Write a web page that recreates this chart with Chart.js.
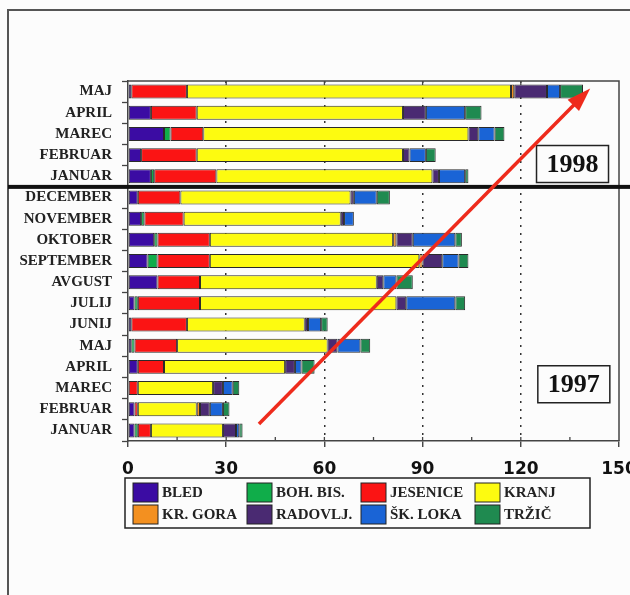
<!DOCTYPE html>
<html>
<head>
<meta charset="utf-8">
<script src="https://cdn.jsdelivr.net/npm/chart.js@4/dist/chart.umd.min.js"></script>
<style>
  body { margin: 0; background: #fcfcfc; }
  .okvir { position: relative; width: 630px; height: 595px; overflow: hidden; }
  .okvir::before {
    content: ''; position: absolute; left: 7px; top: 9px; right: -10px; bottom: -10px;
    border-left: 2px solid #555; border-top: 2px solid #555;
  }
  canvas { position: absolute; left: 0; top: 0; }
</style>
</head>
<body>
<div class="okvir"><canvas id="graf" width="630" height="595"></canvas></div>
<script>
// meseci od zgoraj navzdol (1998 maj ... 1997 januar)
const meseci = ['MAJ', 'APRIL', 'MAREC', 'FEBRUAR', 'JANUAR',
  'DECEMBER', 'NOVEMBER', 'OKTOBER', 'SEPTEMBER', 'AVGUST', 'JULIJ', 'JUNIJ',
  'MAJ', 'APRIL', 'MAREC', 'FEBRUAR', 'JANUAR'];

const bled     = [1, 7, 11, 4, 7,   3, 4, 8, 6, 9, 2, 1, 1, 3, 0, 2, 2];
const bohBis   = [0, 0, 2, 0, 1,    0, 1, 1, 3, 0, 1, 0, 1, 0, 0, 0, 1];
const jesenice = [17, 14, 10, 17, 19, 13, 12, 16, 16, 13, 19, 17, 13, 8, 3, 1, 4];
const kranj    = [99, 63, 81, 63, 66, 52, 48, 56, 64, 54, 60, 36, 46, 37, 23, 18, 22];
const krGora   = [1, 0, 0, 0, 0,    0, 0, 1, 1, 0, 0, 0, 0, 0, 0, 1, 0];
const radovlj  = [10, 7, 3, 2, 2,   1, 1, 5, 6, 2, 3, 1, 3, 3, 3, 3, 4];
const skLoka   = [4, 12, 5, 5, 8,   7, 3, 13, 5, 4, 15, 4, 7, 2, 3, 4, 1];
const trzic    = [7, 5, 3, 3, 1,    4, 0, 2, 3, 5, 3, 2, 3, 4, 2, 2, 1];

const xOznake = [0, 30, 60, 90, 120, 150];
const loceniLeti = 4.5;              // meja med januarjem 1998 in decembrom 1997
const leta = [
  { tekst: '1998', x: 135.8, y: 3.42 },
  { tekst: '1997', x: 136.2, y: 13.82 }
];
const puscica = { od: [40, 15.7], do: [141.2, -0.15] };

const serije = [
  { ime: 'BLED', podatki: bled, barva: '#3b0ca3' },
  { ime: 'BOH. BIS.', podatki: bohBis, barva: '#10ad4a' },
  { ime: 'JESENICE', podatki: jesenice, barva: '#fb1414' },
  { ime: 'KRANJ', podatki: kranj, barva: '#fdfb10' },
  { ime: 'KR. GORA', podatki: krGora, barva: '#f39020' },
  { ime: 'RADOVLJ.', podatki: radovlj, barva: '#4a2a72' },
  { ime: 'ŠK. LOKA', podatki: skLoka, barva: '#1a64d6' },
  { ime: 'TRŽIČ', podatki: trzic, barva: '#1f8a50' }
];

const serif = '"Liberation Serif", "Times New Roman", serif';

// okvir, ločilna črta, okvirja z letnico, puščica in legenda
const dodatki = {
  id: 'dodatki',
  afterDatasetsDraw(chart) {
    const { ctx, chartArea: a, scales: { x, y } } = chart;
    ctx.save();
    ctx.strokeStyle = '#444';
    ctx.lineWidth = 1.5;
    ctx.beginPath();
    ctx.moveTo(a.left, a.top); ctx.lineTo(a.right, a.top); ctx.lineTo(a.right, a.bottom);
    ctx.stroke();
    // kljukice zgoraj in spodaj
    ctx.lineWidth = 1.3;
    for (let v = 15; v < 150; v += 15) {
      const px = x.getPixelForValue(v);
      ctx.beginPath(); ctx.moveTo(px, a.bottom - 4); ctx.lineTo(px, a.bottom); ctx.stroke();
      if (v % 30 === 0) {
        ctx.beginPath(); ctx.moveTo(px, a.top); ctx.lineTo(px, a.top + 4); ctx.stroke();
      }
    }

    // debela črta med letoma
    const ly = y.getPixelForValue(loceniLeti);
    ctx.fillStyle = '#111';
    ctx.fillRect(8, ly - 2, 630, 4);

    // okvirja z letnico
    leta.forEach(l => {
      const cx = x.getPixelForValue(l.x), cy = y.getPixelForValue(l.y);
      ctx.fillStyle = '#fcfcfc';
      ctx.fillRect(cx - 36, cy - 18.5, 72, 37);
      ctx.strokeStyle = '#222';
      ctx.lineWidth = 1.5;
      ctx.strokeRect(cx - 36, cy - 18.5, 72, 37);
      ctx.fillStyle = '#111';
      ctx.font = 'bold 26px ' + serif;
      ctx.textAlign = 'center';
      ctx.textBaseline = 'middle';
      ctx.fillText(l.tekst, cx, cy + 1);
    });

    // puščica
    const x1 = x.getPixelForValue(puscica.od[0]), y1 = y.getPixelForValue(puscica.od[1]);
    const x2 = x.getPixelForValue(puscica.do[0]), y2 = y.getPixelForValue(puscica.do[1]);
    const kot = Math.atan2(y2 - y1, x2 - x1);
    ctx.strokeStyle = '#ee2b1c';
    ctx.lineWidth = 3.5;
    ctx.beginPath();
    ctx.moveTo(x1, y1);
    ctx.lineTo(x2 - 18 * Math.cos(kot), y2 - 18 * Math.sin(kot));
    ctx.stroke();
    ctx.fillStyle = '#ee2b1c';
    ctx.beginPath();
    ctx.moveTo(x2, y2);
    ctx.lineTo(x2 - 24 * Math.cos(kot) + 8 * Math.sin(kot), y2 - 24 * Math.sin(kot) - 8 * Math.cos(kot));
    ctx.lineTo(x2 - 24 * Math.cos(kot) - 8 * Math.sin(kot), y2 - 24 * Math.sin(kot) + 8 * Math.cos(kot));
    ctx.closePath();
    ctx.fill();

    // legenda
    const lx = a.left - 3, lt = a.bottom + 37;
    ctx.fillStyle = '#fcfcfc';
    ctx.fillRect(lx, lt, 465, 50);
    ctx.strokeStyle = '#222';
    ctx.lineWidth = 1.5;
    ctx.strokeRect(lx, lt, 465, 50);
    ctx.font = 'bold 15px ' + serif;
    ctx.textAlign = 'left';
    ctx.textBaseline = 'middle';
    serije.forEach((s, i) => {
      const sx = lx + 8 + (i % 4) * 114;
      const sy = lt + 5 + Math.floor(i / 4) * 22;
      ctx.fillStyle = s.barva;
      ctx.fillRect(sx, sy, 25, 19);
      ctx.strokeStyle = '#222';
      ctx.lineWidth = 1;
      ctx.strokeRect(sx, sy, 25, 19);
      ctx.fillStyle = '#222';
      ctx.fillText(s.ime, sx + 29, sy + 10.5);
    });
    ctx.restore();
  }
};

document.addEventListener('DOMContentLoaded', () => {
  const ctx = document.getElementById('graf').getContext('2d');
  new Chart(ctx, {
    type: 'bar',
    data: {
      labels: meseci,
      datasets: serije.map(s => ({
        label: s.ime,
        data: s.podatki,
        backgroundColor: s.barva,
        borderColor: '#2a2a2a',
        borderWidth: 1,
        borderSkipped: false,
        barPercentage: 0.66,
        categoryPercentage: 1
      }))
    },
    options: {
      indexAxis: 'y',
      responsive: false,
      animation: false,
      devicePixelRatio: 1,
      layout: { padding: { top: 81, right: 11, bottom: 114, left: 0 } },
      plugins: { legend: { display: false }, tooltip: { enabled: false } },
      scales: {
        x: {
          stacked: true,
          min: 0,
          max: 150,
          afterBuildTicks: s => { s.ticks = xOznake.map(v => ({ value: v })); },
          ticks: {
            autoSkip: false,
            maxRotation: 0,
            padding: 12,
            color: '#111',
            font: { family: '"DejaVu Sans", sans-serif', weight: 'bold', size: 17 }
          },
          grid: {
            color: c => (c.tick && c.tick.value > 0 && c.tick.value < 150) ? '#333' : 'rgba(0,0,0,0)',
            lineWidth: 1.5,
            tickLength: 6,
            tickColor: '#333',
            tickWidth: 1.3,
            tickBorderDash: []
          },
          border: { color: '#444', width: 1.5, dash: [2, 6] },
          afterFit: s => { s.height = 40; s.paddingLeft = 0; s.paddingRight = 0; }
        },
        y: {
          stacked: true,
          ticks: {
            autoSkip: false,
            padding: 10,
            color: '#222',
            font: { family: serif, weight: 'bold', size: 15 }
          },
          grid: { drawOnChartArea: false, tickLength: 6, tickColor: '#444', tickWidth: 1.3 },
          border: { color: '#444', width: 1.5 },
          afterFit: s => { s.width = 128; s.paddingTop = 0; s.paddingBottom = 0; }
        }
      }
    },
    plugins: [dodatki]
  });
});
</script>
</body>
</html>
